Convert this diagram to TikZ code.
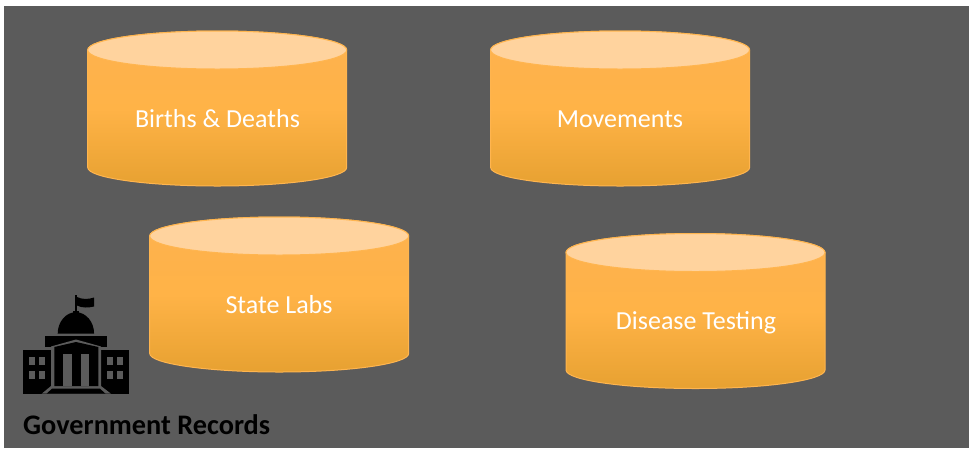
\documentclass[tikz,border=0pt]{standalone}
\usepackage{fontspec}
\setmainfont{Carlito}
\definecolor{bgGrey}{HTML}{5B5B5B}
\definecolor{cylTop}{HTML}{FFD39E}
\definecolor{cylEdge}{HTML}{FFB54F}
\definecolor{cylHi}{HTML}{FDB14F}
\definecolor{cylMid}{HTML}{FFB347}
\definecolor{cylLow}{HTML}{E7A131}
\tikzset{
  x=1pt,y=-1pt,
  cyllabel/.style={text=white,font=\fontsize{26}{30}\selectfont,inner sep=0pt,anchor=base},
  cylbody/.style={draw=cylEdge,line width=1pt,top color=cylHi,bottom color=cylLow,middle color=cylMid},
  cyltop/.style={draw=cylEdge,line width=1pt,fill=cylTop},
  pics/drum/.style={code={
    \path[cylbody] (0,19) -- (0,136.5) arc[start angle=180,end angle=0,x radius=129.5,y radius=18.5] -- (259,19) arc[start angle=0,end angle=-180,x radius=129.5,y radius=19] -- cycle;
    \path[cyltop] (129.5,19) ellipse[x radius=129.5,y radius=19];
  }}
}
\begin{document}
\begin{tikzpicture}
\useasboundingbox (0,0) rectangle (969,448);
\fill[white] (0,0) rectangle (969,448);
\fill[bgGrey] (4,6) rectangle (969,448);

\pic at (87.7,31) {drum};
\pic at (490.6,31) {drum};
\pic at (149.7,217) {drum};
\pic at (566,233.5) {drum};
\node[cyllabel] (births) at (217.5,127) {Births \& Deaths};
\node[cyllabel] (moves) at (620,127) {Movements};
\node[cyllabel] (labs) at (279,313) {State Labs};
\node[cyllabel] (tests) at (696,329) {Disease Testing};

% building icon
\fill[black] (75,295) rectangle (77.3,312);
\fill[black] (77,297) .. controls (82,299.5) and (88,299.5) .. (94,297.5) -- (94,306.5) .. controls (88,308) and (82,308) .. (77,305.5) -- cycle;
\fill[black] (72.7,314) -- (72.7,311) -- (79.3,311) -- (79.3,314) -- cycle;
\fill[black] (57.7,333.7) arc[start angle=180,end angle=360,x radius=18.2,y radius=21.5] -- cycle;
\fill[black] (45,336) rectangle (107.3,347);
\fill[black] (22.7,350) rectangle (129,393.7);
\fill[bgGrey] (51,346.5) -- (76,339.5) -- (101,346.5) -- (101,386) -- (111,393.7) -- (41.7,393.7) -- (51,386) -- cycle;
\fill[black] (54.3,347) -- (76,342) -- (98.3,347) -- (98.3,386) -- (54.3,386) -- cycle;
\fill[black] (46.5,393.7) -- (52,388.7) -- (100,388.7) -- (105.5,393.7) -- cycle;
\fill[bgGrey] (62.7,354.3) rectangle (71.7,386);
\fill[bgGrey] (80.7,354.3) rectangle (89.3,386);
\foreach \wx in {29,39.3,106.7,117.3}
  \foreach \wy in {357,370.7}
    \fill[bgGrey] (\wx,\wy) rectangle +(6,8);

\node[anchor=base west,inner sep=0pt,font=\bfseries\fontsize{28.3}{32}\selectfont] (gov) at (23,434) {Government Records};
\end{tikzpicture}
\end{document}
